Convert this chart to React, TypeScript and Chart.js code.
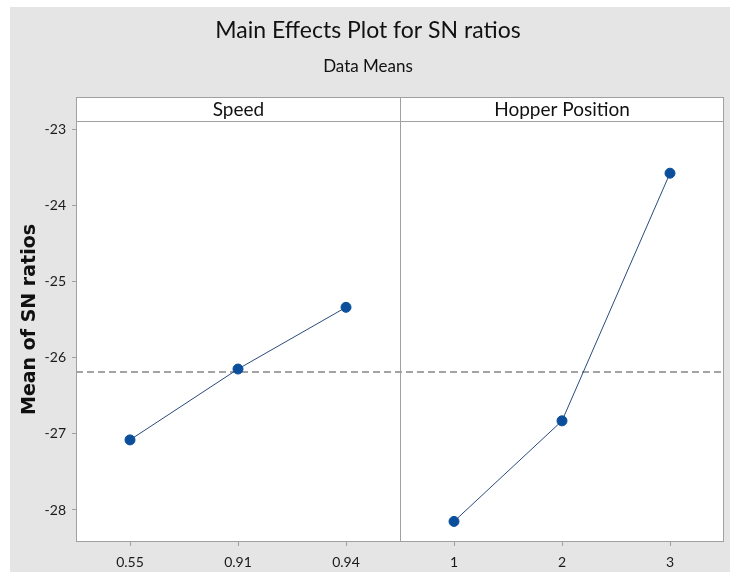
import React, { useEffect, useRef } from "react";
import { Chart, registerables } from "chart.js";

Chart.register(...registerables);

const categories = ["0.55", "0.91", "0.94", "1", "2", "3"];
const panelNames = ["Speed", "Hopper Position"];
const speedValues = [-27.08, -26.15, -25.34];
const hopperValues = [-28.15, -26.83, -23.58];
const yTicks = [-28, -27, -26, -25, -24, -23];
const yMin = -28.42;
const yMax = -22.58;

const allValues = [...speedValues, ...hopperValues];
const grandMean = allValues.reduce((a, b) => a + b, 0) / allValues.length;

const FONT = "Lato, 'Open Sans', sans-serif";
const HEADER_H = 24;

const panelPlugin = {
  id: "panelPlugin",
  beforeDraw(chart: any) {
    const { ctx, chartArea, width, height } = chart;
    ctx.save();
    ctx.fillStyle = "#e5e5e5";
    ctx.fillRect(0, 0, width, height);
    ctx.fillStyle = "#ffffff";
    ctx.fillRect(chartArea.left, chartArea.top, chartArea.right - chartArea.left, chartArea.bottom - chartArea.top);
    ctx.restore();
  },
  beforeDatasetsDraw(chart: any) {
    const { ctx, chartArea, scales } = chart;
    const y = scales.y.getPixelForValue(grandMean);
    ctx.save();
    ctx.strokeStyle = "#858585";
    ctx.lineWidth = 1.5;
    ctx.setLineDash([7, 4]);
    ctx.beginPath();
    ctx.moveTo(chartArea.left, y);
    ctx.lineTo(chartArea.right, y);
    ctx.stroke();
    ctx.restore();
  },
  afterDraw(chart: any) {
    const { ctx, chartArea, scales } = chart;
    const x = scales.x;
    const divX = Math.round((x.getPixelForValue(2) + x.getPixelForValue(3)) / 2) + 0.5;
    const left = Math.round(chartArea.left) + 0.5;
    const right = Math.round(chartArea.right) - 0.5;
    const top = Math.round(chartArea.top) + 0.5;
    const bottom = Math.round(chartArea.bottom) - 0.5;
    ctx.save();
    ctx.fillStyle = "#ffffff";
    ctx.fillRect(left, top, right - left, HEADER_H);
    ctx.strokeStyle = "#a0a0a0";
    ctx.lineWidth = 1;
    ctx.setLineDash([]);
    ctx.strokeRect(left, top, right - left, bottom - top);
    ctx.beginPath();
    ctx.moveTo(left, top + HEADER_H);
    ctx.lineTo(right, top + HEADER_H);
    ctx.moveTo(divX, top);
    ctx.lineTo(divX, bottom);
    ctx.stroke();
    ctx.fillStyle = "#111111";
    ctx.font = `19px ${FONT}`;
    ctx.textAlign = "center";
    ctx.textBaseline = "middle";
    ctx.fillText(panelNames[0], (left + divX) / 2, top + HEADER_H / 2);
    ctx.fillText(panelNames[1], (divX + right) / 2, top + HEADER_H / 2);
    ctx.restore();
  },
};

export default function App() {
  const canvasRef = useRef<HTMLCanvasElement | null>(null);

  useEffect(() => {
    if (!canvasRef.current) return;
    const speedData = [...speedValues, null, null, null];
    const hopperData = [null, null, null, ...hopperValues];
    const lineColor = "#2b4b7c";
    const pointColor = "#0b4f9c";
    const chart = new Chart(canvasRef.current, {
      type: "line",
      data: {
        labels: categories,
        datasets: [
          {
            label: panelNames[0],
            data: speedData,
            borderColor: lineColor,
            borderWidth: 1,
            pointBackgroundColor: pointColor,
            pointBorderColor: pointColor,
            pointRadius: 5,
            spanGaps: false,
          },
          {
            label: panelNames[1],
            data: hopperData,
            borderColor: lineColor,
            borderWidth: 1,
            pointBackgroundColor: pointColor,
            pointBorderColor: pointColor,
            pointRadius: 5,
            spanGaps: false,
          },
        ],
      },
      options: {
        animation: false,
        responsive: false,
        maintainAspectRatio: false,
        layout: { padding: { left: 0, right: 4, top: 0, bottom: 0 } },
        plugins: {
          legend: { display: false },
          tooltip: { enabled: false },
          title: {
            display: true,
            text: "Main Effects Plot for SN ratios",
            color: "#111111",
            font: { family: FONT, size: 23, weight: "normal", lineHeight: 1.2 },
            padding: { top: 10, bottom: 12 },
          },
          subtitle: {
            display: true,
            text: "Data Means",
            color: "#111111",
            font: { family: FONT, size: 17, weight: "normal", lineHeight: 1.2 },
            padding: { top: 0, bottom: 20 },
          },
        },
        scales: {
          x: {
            type: "category",
            offset: true,
            grid: {
              offset: false,
              drawOnChartArea: false,
              drawTicks: true,
              tickLength: 4,
              color: "#a0a0a0",
            },
            border: { display: false },
            ticks: {
              color: "#1a1a1a",
              font: { family: FONT, size: 14 },
              padding: 8,
              maxRotation: 0,
              autoSkip: false,
            },
            afterFit: (scale: any) => {
              scale.height = 30;
            },
          },
          y: {
            type: "linear",
            min: yMin,
            max: yMax,
            afterBuildTicks: (scale: any) => {
              scale.ticks = yTicks.map((v) => ({ value: v }));
            },
            grid: {
              drawOnChartArea: false,
              drawTicks: true,
              tickLength: 4,
              color: "#a0a0a0",
            },
            border: { display: false },
            ticks: {
              color: "#1a1a1a",
              font: { family: FONT, size: 14 },
              padding: 6,
              callback: (v: any) => String(v),
            },
            title: {
              display: true,
              text: "Mean of SN ratios",
              color: "#111111",
              font: { family: "'DejaVu Sans', sans-serif", size: 19, weight: "bold", lineHeight: 1.2 },
              padding: { top: 9, bottom: 0 },
            },
            afterFit: (scale: any) => {
              scale.width = 66;
            },
          },
        },
      },
      plugins: [panelPlugin],
    } as any);
    return () => chart.destroy();
  }, []);

  return (
    <div style={{ position: "absolute", left: 10, top: 7, width: 720, height: 565 }}>
      <canvas ref={canvasRef} width={720} height={565} style={{ width: 720, height: 565, display: "block" }} />
    </div>
  );
}
